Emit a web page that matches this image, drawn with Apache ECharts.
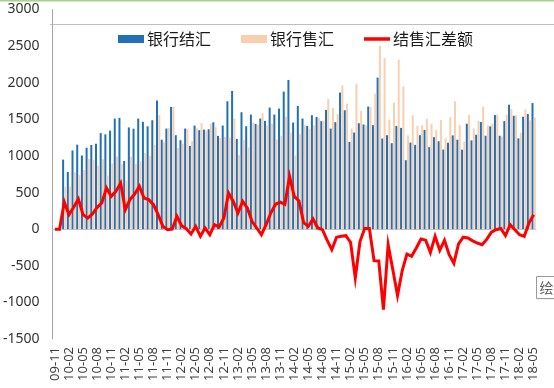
<!DOCTYPE html>
<html>
<head>
<meta charset="utf-8">
<script src="https://cdn.jsdelivr.net/npm/echarts@6/dist/echarts.min.js"></script>
<style>
html,body{margin:0;padding:0;background:#fff;}
#chart{width:554px;height:388px;}
</style>
</head>
<body>
<div id="chart"></div>
<script>
var categories = [
'09-11','09-12',
'10-01','10-02','10-03','10-04','10-05','10-06','10-07','10-08','10-09','10-10','10-11','10-12',
'11-01','11-02','11-03','11-04','11-05','11-06','11-07','11-08','11-09','11-10','11-11','11-12',
'12-01','12-02','12-03','12-04','12-05','12-06','12-07','12-08','12-09','12-10','12-11','12-12',
'13-01','13-02','13-03','13-04','13-05','13-06','13-07','13-08','13-09','13-10','13-11','13-12',
'14-01','14-02','14-03','14-04','14-05','14-06','14-07','14-08','14-09','14-10','14-11','14-12',
'15-01','15-02','15-03','15-04','15-05','15-06','15-07','15-08','15-09','15-10','15-11','15-12',
'16-01','16-02','16-03','16-04','16-05','16-06','16-07','16-08','16-09','16-10','16-11','16-12',
'17-01','17-02','17-03','17-04','17-05','17-06','17-07','17-08','17-09','17-10','17-11','17-12',
'18-01','18-02','18-03','18-04','18-05'
];

var seriesNames = ['银行结汇', '银行售汇', '结售汇差额'];

var bankSettlement = [
0,0,
950,782,1075,1154,1006,1113,1150,1167,1312,1295,1345,1510,
1520,932,1390,1372,1510,1466,1404,1488,1757,1222,1374,1670,
1283,1215,1374,1138,1415,1351,1360,1365,1460,1274,1415,1747,
1888,1233,1597,1406,1565,1438,1511,1479,1661,1565,1647,1879,
2038,1456,1684,1511,1411,1556,1533,1474,1629,1374,1461,1866,
1624,1192,1320,1447,1429,1674,1420,2070,1238,1283,1174,1410,
1383,942,1183,1151,1283,1356,1119,1256,1201,1087,1180,1281,
1222,1085,1440,1213,1290,1463,1276,1404,1558,1276,1476,1700,
1549,1240,1536,1572,1722
];

var bankSale = [
0,0,
579,584,777,742,808,961,943,869,955,733,897,994,
890,666,987,892,925,1041,1001,1154,1559,1183,1381,1668,
1108,1167,1367,1204,1376,1449,1344,1440,1399,1244,1263,1253,
1508,1013,1217,1117,1458,1422,1586,1418,1441,1225,1277,1539,
1317,1008,1299,1421,1372,1417,1517,1481,1779,1654,1571,1964,
1713,1374,1987,1617,1419,1664,1850,2505,2337,1495,1727,2315,
1948,1282,1554,1408,1417,1506,1439,1354,1490,1239,1528,1747,
1422,1195,1561,1373,1479,1675,1416,1444,1565,1266,1565,1639,
1556,1315,1634,1488,1524
];

var netSettlement = [
0,0,
371,198,298,412,198,152,207,298,357,562,448,516,
630,266,403,480,585,425,403,334,198,39,-7,2,
175,48,7,-66,39,-98,16,-75,61,30,152,494,
380,220,380,289,107,16,-75,61,220,340,370,340,
721,448,385,90,39,139,16,-7,-150,-280,-110,-98,
-89,-182,-667,-170,10,10,-430,-435,-1099,-212,-553,-905,
-565,-340,-371,-257,-134,-150,-320,-98,-289,-152,-348,-466,
-200,-110,-121,-160,-189,-212,-140,-40,-7,10,-89,61,
-7,-75,-98,84,198
];

var yTicks = {min: -1500, max: 3000, interval: 500};

var chart = echarts.init(document.getElementById('chart'), null, {renderer: 'canvas'});
var labelFont = '"Noto Sans", "DejaVu Sans", sans-serif';
var cjkFont = '"Noto Sans CJK SC", sans-serif';

chart.setOption({
  animation: false,
  backgroundColor: '#ffffff',
  grid: {left: 50, right: 18, top: 9.5, bottom: 49, containLabel: false},
  legend: {
    top: 26,
    left: 113,
    itemGap: 30,
    itemWidth: 26,
    itemHeight: 8,
    textStyle: {fontFamily: cjkFont, fontSize: 16, color: '#1a1a1a', padding: [0,0,0,-2]},
    data: [
      {name: seriesNames[0], icon: 'rect'},
      {name: seriesNames[1], icon: 'rect'},
      {name: seriesNames[2], icon: 'path://M0,0 L26,0 L26,3.5 L0,3.5 Z', itemStyle: {color: '#FF0000'}}
    ]
  },
  xAxis: [{
    type: 'category',
    data: categories,
    position: 'bottom',
    boundaryGap: true,
    axisLine: {show: false, onZero: false},
    axisTick: {show: false},
    axisLabel: {
      interval: 2,
      rotate: 90,
      margin: 8,
      fontFamily: labelFont,
      fontSize: 13,
      color: '#404040'
    },
    splitLine: {show: false}
  }, {
    type: 'category',
    data: categories,
    position: 'bottom',
    boundaryGap: true,
    axisLine: {show: true, onZero: true, onZeroAxisIndex: 0, lineStyle: {color: '#c8c8c8', width: 1}},
    axisTick: {show: false},
    axisLabel: {show: false},
    splitLine: {show: false}
  }],
  yAxis: {
    type: 'value',
    min: yTicks.min,
    max: yTicks.max,
    interval: yTicks.interval,
    axisLine: {show: true, lineStyle: {color: '#a6a6a6', width: 1}},
    axisTick: {show: false},
    splitLine: {show: false},
    axisLabel: {
      margin: 13,
      fontFamily: labelFont,
      fontSize: 14,
      color: '#333333',
      formatter: function (v) { return String(v); }
    }
  },
  series: [{
    name: seriesNames[0],
    type: 'bar',
    data: bankSettlement,
    barWidth: 2,
    barGap: '15%',
    itemStyle: {color: '#2270B8'}
  }, {
    name: seriesNames[1],
    type: 'bar',
    data: bankSale,
    barWidth: 2,
    itemStyle: {color: '#F8CFAF'}
  }, {
    name: seriesNames[2],
    type: 'line',
    data: netSettlement,
    symbol: 'none',
    showSymbol: false,
    z: 5,
    lineStyle: {color: '#FF0000', width: 3, join: 'miter'},
    itemStyle: {color: '#FF0000'}
  }],
  graphic: [
    {type: 'rect', left: 0, top: 0, shape: {width: 554, height: 1.5}, style: {fill: '#a9d18e'}, silent: true},
    {type: 'line', shape: {x1: 50, y1: 24.5, x2: 554, y2: 24.5}, style: {stroke: '#bfbfbf', lineWidth: 1}, silent: true},
    {type: 'group', left: 536, top: 276, children: [
      {type: 'rect', shape: {x: 1, y: 1, width: 20, height: 22}, style: {fill: '#e6e6e6'}},
      {type: 'rect', shape: {x: 0, y: 0, width: 20, height: 22}, style: {fill: '#ffffff', stroke: '#9a9a9a', lineWidth: 1}},
      {type: 'text', style: {x: 3, y: 4, text: '绘', fontFamily: cjkFont, fontSize: 14, fill: '#606060'}}
    ]}
  ]
});
</script>
</body>
</html>
